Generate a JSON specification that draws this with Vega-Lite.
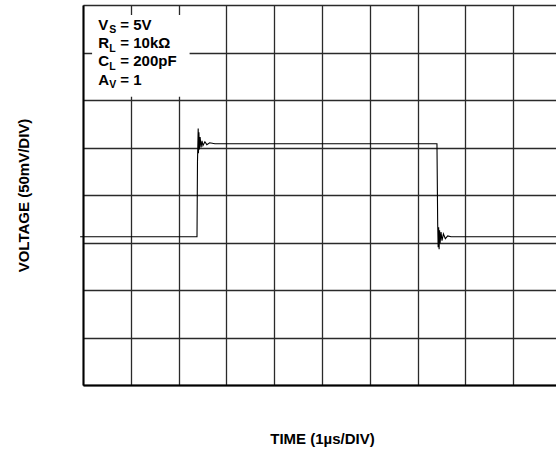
{
  "$schema": "https://vega.github.io/schema/vega-lite/v6.json",
  "width": 478,
  "height": 380,
  "autosize": {"type": "none"},
  "padding": {"left": 83, "top": 5, "right": 0, "bottom": 65},
  "background": "white",
  "config": {
    "view": {"stroke": null},
    "font": "Liberation Sans",
    "axis": {
      "labels": false,
      "ticks": false,
      "grid": true,
      "gridColor": "#2a2a2a",
      "gridWidth": 1.3,
      "gridOpacity": 1,
      "domainColor": "#000000",
      "domainWidth": 2,
      "titleFont": "Liberation Sans",
      "titleFontSize": 15,
      "titleFontWeight": "bold",
      "titleColor": "#000000"
    }
  },
  "datasets": {
    "trace": [
      {"t": -0.06, "v": 156},
      {"t": 2.385, "v": 156},
      {"t": 2.395, "v": 235},
      {"t": 2.41, "v": 270},
      {"t": 2.415, "v": 244},
      {"t": 2.425, "v": 266},
      {"t": 2.435, "v": 248},
      {"t": 2.45, "v": 261},
      {"t": 2.47, "v": 250},
      {"t": 2.49, "v": 257},
      {"t": 2.51, "v": 252},
      {"t": 2.55, "v": 256},
      {"t": 2.59, "v": 253},
      {"t": 2.65, "v": 255},
      {"t": 2.76, "v": 254},
      {"t": 7.405, "v": 254},
      {"t": 7.42, "v": 170},
      {"t": 7.43, "v": 145},
      {"t": 7.44, "v": 166},
      {"t": 7.45, "v": 143},
      {"t": 7.46, "v": 163},
      {"t": 7.47, "v": 149},
      {"t": 7.49, "v": 161},
      {"t": 7.51, "v": 152},
      {"t": 7.54, "v": 159},
      {"t": 7.58, "v": 154},
      {"t": 7.63, "v": 157},
      {"t": 7.7, "v": 156},
      {"t": 10, "v": 156}
    ],
    "box": [
      {"t": 0.19, "t2": 2.23, "v": 303.5, "v2": 389.5}
    ],
    "notes": [
      {"t": 0.32, "v": 373.7, "main": "V", "sub": "S", "rest": "= 5V"},
      {"t": 0.32, "v": 354.6, "main": "R", "sub": "L", "rest": "= 10kΩ"},
      {"t": 0.32, "v": 335.4, "main": "C", "sub": "L", "rest": "= 200pF"},
      {"t": 0.32, "v": 316.3, "main": "A", "sub": "V", "rest": "= 1"}
    ]
  },
  "encoding": {
    "x": {
      "field": "t",
      "type": "quantitative",
      "scale": {"domain": [0, 10], "nice": false, "zero": false},
      "axis": {
        "title": "TIME (1µs/DIV)",
        "values": [0, 1, 2, 3, 4, 5, 6, 7, 8, 9, 10],
        "titlePadding": 46
      }
    },
    "y": {
      "field": "v",
      "type": "quantitative",
      "scale": {"domain": [0, 400], "nice": false, "zero": false},
      "axis": {
        "title": "VOLTAGE (50mV/DIV)",
        "values": [0, 50, 100, 150, 200, 250, 300, 350, 400],
        "titlePadding": 52
      }
    }
  },
  "layer": [
    {
      "data": {"name": "box"},
      "mark": {"type": "rect", "fill": "white", "stroke": null},
      "encoding": {
        "x2": {"field": "t2"},
        "y2": {"field": "v2"}
      }
    },
    {
      "data": {"name": "trace"},
      "mark": {"type": "line", "color": "#000000", "strokeWidth": 1.1, "clip": false},
      "encoding": {}
    },
    {
      "data": {"name": "notes"},
      "mark": {"type": "text", "align": "left", "baseline": "alphabetic", "font": "Liberation Sans", "fontSize": 15, "fontWeight": "bold", "color": "#000000"},
      "encoding": {"text": {"field": "main"}}
    },
    {
      "data": {"name": "notes"},
      "mark": {"type": "text", "align": "left", "baseline": "alphabetic", "font": "Liberation Sans", "fontSize": 10.5, "fontWeight": "bold", "color": "#000000", "dx": 11, "dy": 3.5},
      "encoding": {"text": {"field": "sub"}}
    },
    {
      "data": {"name": "notes"},
      "mark": {"type": "text", "align": "left", "baseline": "alphabetic", "font": "Liberation Sans", "fontSize": 15, "fontWeight": "bold", "color": "#000000", "dx": 22},
      "encoding": {"text": {"field": "rest"}}
    }
  ]
}
